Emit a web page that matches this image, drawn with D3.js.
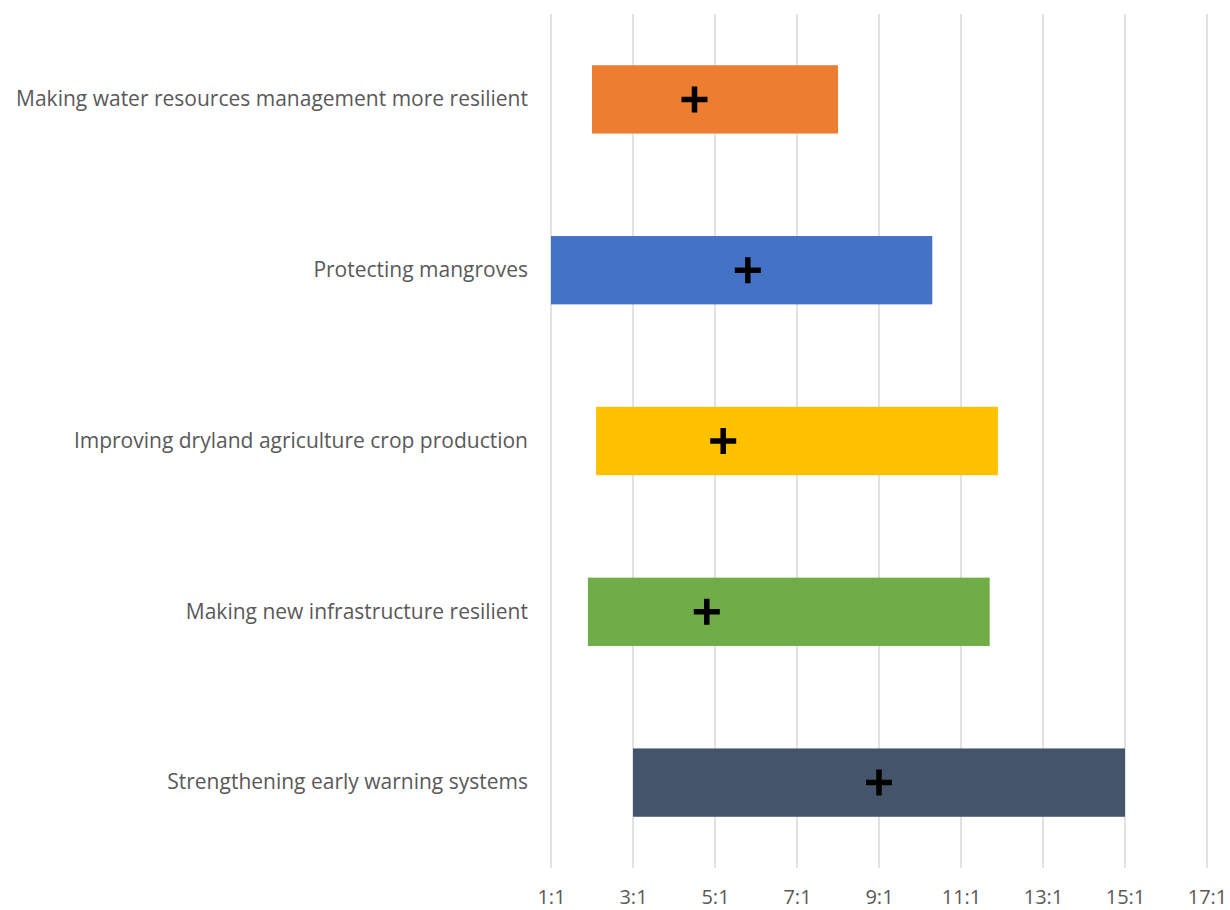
<!DOCTYPE html>
<html>
<head>
<meta charset="utf-8">
<script src="https://cdn.jsdelivr.net/npm/d3@7"></script>
<style>
  html, body { margin: 0; padding: 0; background: #fff; }
  svg { display: block; }
  text { font-family: "Open Sans", "Liberation Sans", sans-serif; fill: #595959; }
</style>
</head>
<body>
<svg id="chart" width="1230" height="910"></svg>
<script>
// Benefit-cost ratio ranges for adaptation measures
const categories = [
  "Making water resources management more resilient",
  "Protecting mangroves",
  "Improving dryland agriculture crop production",
  "Making new infrastructure resilient",
  "Strengthening early warning systems"
];
const lowValues  = [2.0, 1.0, 2.1, 1.9, 3.0];
const highValues = [8.0, 10.3, 11.9, 11.7, 15.0];
const midValues  = [4.5, 5.8, 5.2, 4.8, 9.0];
const barColors  = ["#ED7D31", "#4472C4", "#FFC000", "#70AD47", "#44546A"];
const tickValues = [1, 3, 5, 7, 9, 11, 13, 15, 17];
const tickLabels = ["1:1", "3:1", "5:1", "7:1", "9:1", "11:1", "13:1", "15:1", "17:1"];

const svg = d3.select("#chart");
const plot = { left: 551, right: 1207, top: 14, bottom: 868 };
const fontStack = '"Open Sans", "Liberation Sans", sans-serif';

const x = d3.scaleLinear().domain([1, 17]).range([plot.left, plot.right]);
const y = d3.scaleBand().domain(categories).range([plot.top, plot.bottom]).paddingInner(0.6).paddingOuter(0.3);

// Vertical gridlines
svg.append("g").selectAll("line").data(tickValues).join("line")
  .attr("x1", d => x(d)).attr("x2", d => x(d))
  .attr("y1", plot.top).attr("y2", plot.bottom)
  .attr("stroke", "#d9d9d9").attr("stroke-width", 1.5);

// X axis tick labels
const xAxis = d3.axisBottom(x).tickValues(tickValues)
  .tickFormat((d, i) => tickLabels[i]).tickSize(0).tickPadding(0);
const gx = svg.append("g").attr("transform", `translate(0, 904)`).call(xAxis);
gx.select(".domain").remove();
gx.selectAll("text").attr("font-size", 20).attr("dy", "0").attr("y", 0)
  .style("font-family", fontStack).attr("fill", "#595959");

// Category labels
const yAxis = d3.axisLeft(y).tickSize(0).tickPadding(0);
const gy = svg.append("g").attr("transform", `translate(528, 0)`).call(yAxis);
gy.select(".domain").remove();
gy.selectAll("text").attr("font-size", 21)
  .style("font-family", fontStack).attr("fill", "#595959");

// Range bars
svg.append("g").selectAll("rect").data(categories).join("rect")
  .attr("x", (d, i) => x(lowValues[i]))
  .attr("width", (d, i) => x(highValues[i]) - x(lowValues[i]))
  .attr("y", d => y(d))
  .attr("height", y.bandwidth())
  .attr("fill", (d, i) => barColors[i]);

// Central estimate markers
const half = 13;
svg.append("g").selectAll("path").data(categories).join("path")
  .attr("d", (d, i) => {
    const cx = x(midValues[i]);
    const cy = y(d) + y.bandwidth() / 2;
    return `M${cx - half},${cy}H${cx + half}M${cx},${cy - half}V${cy + half}`;
  })
  .attr("stroke", "#000").attr("stroke-width", 5.5).attr("fill", "none");
</script>
</body>
</html>
